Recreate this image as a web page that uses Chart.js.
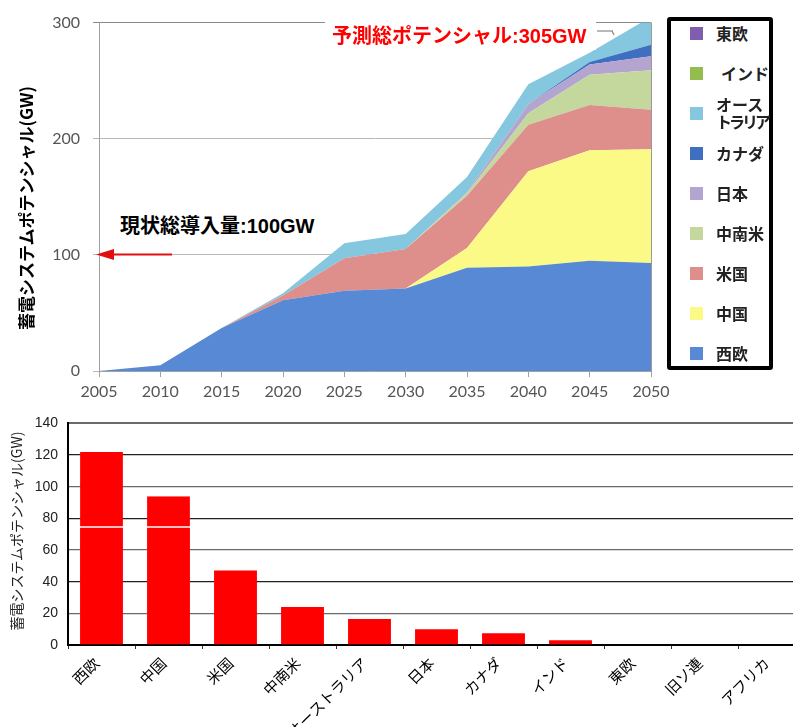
<!DOCTYPE html>
<html>
<head>
<meta charset="utf-8">
<script src="https://cdn.jsdelivr.net/npm/chart.js@4/dist/chart.umd.min.js"></script>
<style>
html,body{margin:0;padding:0;background:#fff;}
body{width:793px;height:727px;overflow:hidden;position:relative;font-family:"Noto Sans CJK JP","Liberation Sans",sans-serif;}
#topWrap{position:absolute;left:0;top:0;width:700px;height:405px;}
#bottomWrap{position:absolute;left:0;top:405px;width:830px;height:322px;}
.ytitle{position:absolute;white-space:nowrap;transform:translate(-50%,-50%) rotate(-90deg);color:#000;}
#legendBox{position:absolute;left:667px;top:17px;width:106px;height:353px;box-sizing:border-box;border:4px solid #000;border-radius:3px;background:#fff;}
.lgMark{position:absolute;width:13px;height:13px;}
.lgText{position:absolute;font-size:16px;font-weight:bold;color:#222;line-height:17px;white-space:nowrap;transform:translateY(-50%);}
.note{position:absolute;background:#fff;font-weight:bold;font-size:20px;white-space:nowrap;line-height:28px;}
#deco{position:absolute;left:0;top:0;width:793px;height:727px;pointer-events:none;}
</style>
</head>
<body>
<div id="topWrap"><canvas id="topChart"></canvas></div>
<div id="bottomWrap"><canvas id="bottomChart"></canvas></div>
<div class="ytitle" style="left:25px;top:208px;font-size:17px;font-weight:bold;">蓄電システムポテンシャル(GW)</div>
<div class="ytitle" style="left:16px;top:531px;font-size:14px;color:#222;">蓄電システムポテンシャル(GW)</div>
<div class="note" style="left:325px;top:21px;width:271px;height:29px;padding-left:7px;box-sizing:border-box;color:#ff0000;">予測総ポテンシャル<span style="font-family:'Liberation Sans';">:305GW</span></div>
<div class="note" style="left:113px;top:207px;width:222px;height:39px;padding:4px 0 0 7px;box-sizing:border-box;color:#000;">現状総導入量<span style="font-family:'Liberation Sans';">:100GW</span></div>
<div id="legendBox"></div>
<svg id="deco" viewBox="0 0 793 727">
  <line x1="108" y1="254.5" x2="172" y2="254.5" stroke="#e01010" stroke-width="2"/>
  <polygon points="96,254.5 114,249 114,260" fill="#e01010"/>
  <line x1="597" y1="31" x2="613" y2="31" stroke="#8a8a8a" stroke-width="1.2"/>
  <line x1="612" y1="31" x2="614" y2="35" stroke="#8a8a8a" stroke-width="1.2"/>
</svg>
<script>
// ---- Top chart: stacked areas (GW) ----
const years = ['2005','2010','2015','2020','2025','2030','2035','2040','2045','2050'];
const westEurope    = [0, 5, 37, 61, 69, 71, 89, 90, 95, 93];
const china         = [0, 0, 0, 0, 0, 0, 17, 82, 95, 98];
const usa           = [0, 0, 0, 4, 28, 34, 45, 40, 39, 34];
const latinAmerica  = [0, 0, 0, 0, 0, 0, 2, 10, 26, 34];
const japan         = [0, 0, 0, 0, 0, 0, 1, 8, 9, 12];
const canada        = [0, 0, 0, 0, 0, 0, 0, 0, 2, 10];
const australia     = [0, 0, 0, 2, 13, 13, 13, 17, 8, 24];
const india         = [0, 0, 0, 0, 0, 0, 0, 0, 0, 0];
const eastEurope    = [0, 0, 0, 0, 0, 0, 0, 0, 0, 0];

const areaNames  = ['西欧','中国','米国','中南米','日本','カナダ','オーストラリア','インド','東欧'];
const areaValues = [westEurope, china, usa, latinAmerica, japan, canada, australia, india, eastEurope];
const areaColors = ['#5889D4','#FCFA86','#DE8E8B','#C4D89E','#B4A5D0','#3F6FC0','#84C7DE','#93BE4E','#7F5FAD'];

// ---- Bottom chart: bars (GW) ----
const regions = ['西欧','中国','米国','中南米','オーストラリア','日本','カナダ','インド','東欧','旧ソ連','アフリカ'];
const regionTotals = [122, 94, 47, 24, 16.5, 10, 7.5, 3, 0, 0, 0];
const lowerSegment = [74, 74, 47, 24, 16.5, 10, 7.5, 3, 0, 0, 0];
const upperSegment = [48, 20, 0, 0, 0, 0, 0, 0, 0, 0, 0];

const frame = {
  id: 'frame',
  afterDatasetsDraw(chart) {
    const {ctx, chartArea} = chart;
    ctx.save();
    ctx.strokeStyle = '#9a9a9a';
    ctx.lineWidth = 1;
    ctx.beginPath();
    ctx.moveTo(Math.round(chartArea.right) + 0.5, chartArea.top);
    ctx.lineTo(Math.round(chartArea.right) + 0.5, chartArea.bottom);
    ctx.stroke();
    ctx.restore();
  }
};

new Chart(document.getElementById('topChart'), {
  type: 'line',
  data: {
    labels: years,
    datasets: areaNames.map((n, i) => ({
      label: n,
      data: areaValues[i],
      backgroundColor: areaColors[i],
      borderColor: areaColors[i],
      borderWidth: 0,
      pointRadius: 0,
      tension: 0,
      fill: i === 0 ? 'origin' : '-1'
    }))
  },
  options: {
    responsive: true,
    maintainAspectRatio: false,
    animation: false,
    layout: {padding: {top: 20, right: 49, left: 0, bottom: 0}},
    plugins: {legend: {display: false}, tooltip: {enabled: false}},
    scales: {
      x: {
        grid: {drawOnChartArea: false, tickLength: 6, color: '#a0a0a0'},
        border: {color: '#a0a0a0'},
        ticks: {color: '#555', font: {family: 'Lato', size: 16}, padding: 5, maxRotation: 0, autoSkip: false},
        afterFit: s => { s.height = 34; }
      },
      y: {
        stacked: true,
        min: 0, max: 300,
        ticks: {stepSize: 100, color: '#555', font: {family: 'Lato', size: 16}, padding: 13},
        grid: {color: c => (c.tick && c.tick.value === 300) ? '#8a8a8a' : '#b8b8b8', tickLength: 6},
        border: {color: '#a0a0a0'},
        afterFit: s => { s.width = 99; }
      }
    }
  },
  plugins: [frame]
});

// HTML legend (reverse stack order)
const body = document.body;
for (let k = 0; k < areaNames.length; k++) {
  const i = areaNames.length - 1 - k;
  const cy = 33 + 40 * k;
  const m = document.createElement('div');
  m.className = 'lgMark';
  m.style.left = '690px';
  m.style.top = (cy - 6.5) + 'px';
  m.style.background = areaColors[i];
  body.appendChild(m);
  const t = document.createElement('div');
  t.className = 'lgText';
  t.style.left = (areaNames[i] === 'インド' ? 721 : 716) + 'px';
  t.style.top = cy + 'px';
  const name = areaNames[i];
  if (name.length > 4) {
    t.innerHTML = name.slice(0, 3) + '<br><span style="letter-spacing:-3px">' + name.slice(3) + '</span>';
  } else {
    t.textContent = name;
  }
  body.appendChild(t);
}

new Chart(document.getElementById('bottomChart'), {
  type: 'bar',
  data: {
    labels: regions,
    datasets: [
      {label: 'lower', data: lowerSegment, backgroundColor: '#ff0000', barPercentage: 0.64, categoryPercentage: 1, borderWidth: 0},
      {label: 'upper', data: upperSegment, backgroundColor: '#ff0000', barPercentage: 0.64, categoryPercentage: 1,
       borderColor: '#ffffff', borderWidth: {top: 0, left: 0, right: 0, bottom: 1.5}, borderSkipped: false}
    ]
  },
  options: {
    responsive: true,
    maintainAspectRatio: false,
    animation: false,
    layout: {padding: {top: 16, right: 25, left: 0, bottom: 0}},
    plugins: {legend: {display: false}, tooltip: {enabled: false}},
    scales: {
      x: {
        stacked: true,
        grid: {drawOnChartArea: false, tickLength: 4, color: '#333'},
        border: {color: '#000', width: 2},
        ticks: {minRotation: 45, maxRotation: 45, autoSkip: false, color: '#000', font: {family: 'Noto Sans CJK JP', size: 15}, padding: 5, labelOffset: -5},
        afterFit: s => { s.height = 82; }
      },
      y: {
        stacked: true,
        min: 0, max: 140,
        ticks: {stepSize: 20, color: '#222', font: {family: 'Liberation Sans', size: 14}, padding: 10},
        grid: {drawTicks: false, color: c => (c.tick && c.tick.value % 40 === 0) ? '#222' : '#6a6a6a', lineWidth: c => (c.tick && c.tick.value === 140) ? 2 : 1.3},
        border: {color: '#000', width: 2},
        afterFit: s => { s.width = 68; }
      }
    }
  }
});
</script>
</body>
</html>
